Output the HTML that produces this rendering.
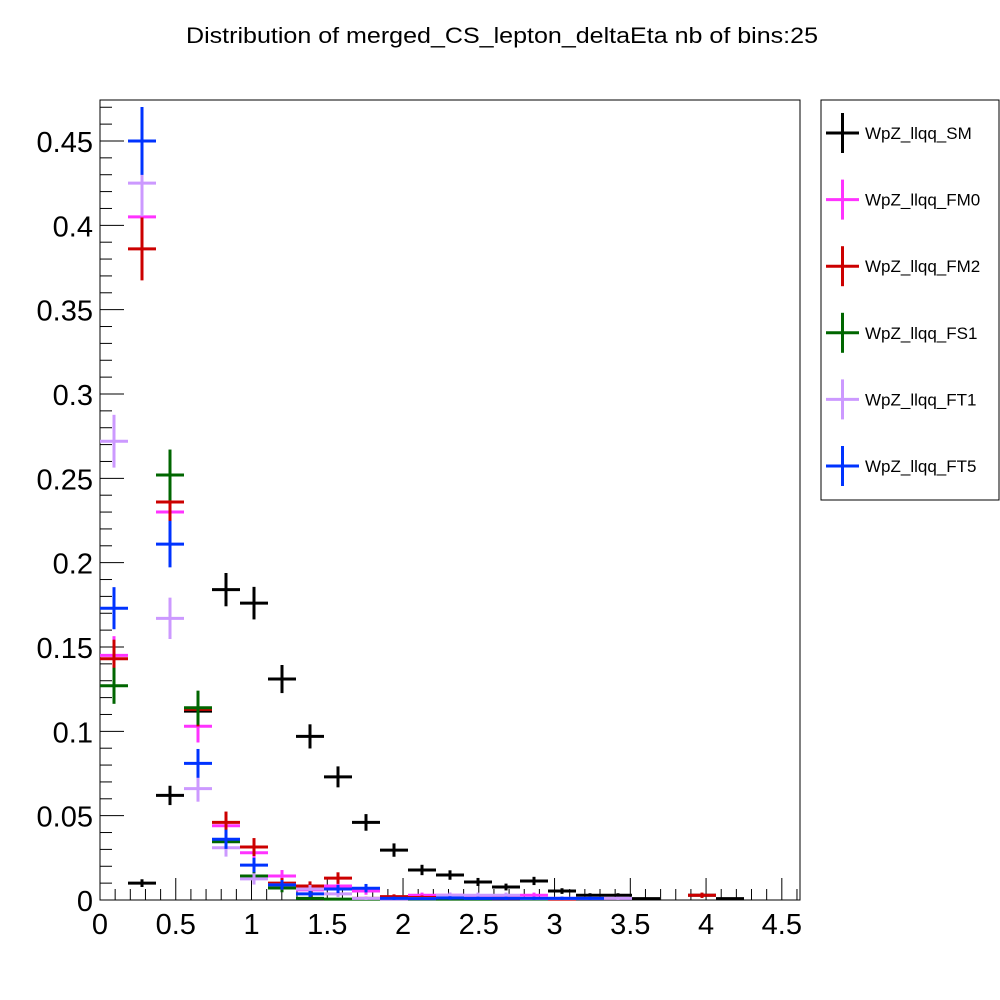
<!DOCTYPE html>
<html><head><meta charset="utf-8"><style>
html,body{margin:0;padding:0;background:#fff;}
svg{display:block;font-family:"Liberation Sans",Arial,sans-serif;}
</style></head><body>
<svg id="chart" width="1000" height="1000" viewBox="0 0 1000 1000" xmlns="http://www.w3.org/2000/svg">
<rect x="0" y="0" width="1000" height="1000" fill="#fff"/>
<text x="502" y="43" font-size="22" text-anchor="middle" textLength="632" lengthAdjust="spacingAndGlyphs">Distribution of merged_CS_lepton_deltaEta nb of bins:25</text>
<g id="axes"></g>
<g id="marks"></g>
<g id="legend"></g>
</svg>
<script>
const xTicks = [0, 0.5, 1, 1.5, 2, 2.5, 3, 3.5, 4, 4.5];
const xTickLabels = ["0","0.5","1","1.5","2","2.5","3","3.5","4","4.5"];
const yTicks = [0, 0.05, 0.1, 0.15, 0.2, 0.25, 0.3, 0.35, 0.4, 0.45];
const yTickLabels = ["0","0.05","0.1","0.15","0.2","0.25","0.3","0.35","0.4","0.45"];
const seriesNames = ["WpZ_llqq_SM","WpZ_llqq_FM0","WpZ_llqq_FM2","WpZ_llqq_FS1","WpZ_llqq_FT1","WpZ_llqq_FT5"];
const binCenters = [0.0924,0.2772,0.462,0.6468,0.8316,1.0164,1.2012,1.386,1.5708,1.7556,1.9404,2.1252,2.31,2.4948,2.6796,2.8644,3.0492,3.234,3.4188,3.6036,3.7884,3.9732,4.158,4.3428,4.5276];
const valSM  = [0,0.010,0.062,0.112,0.184,0.176,0.131,0.097,0.073,0.046,0.0296,0.0178,0.0148,0.0107,0.0077,0.0113,0.0053,0.0028,0.0028,0.0008,0,0.0028,0.0008,0,0];
const valFM0 = [0.145,0.405,0.230,0.103,0.044,0.028,0.0142,0.006,0.0083,0.0053,0.001,0.0028,0.0028,0.002,0.0012,0.0028,0.001,0,0,0,0,0,0,0,0];
const valFM2 = [0.143,0.386,0.236,0.113,0.046,0.0314,0.010,0.0083,0.013,0.001,0.002,0.0015,0.0008,0.0008,0.001,0.0008,0.0005,0,0,0,0,0.0028,0,0,0];
const valFS1 = [0.127,0.450,0.252,0.114,0.0345,0.0142,0.0071,0.001,0.0005,0.0005,0.0005,0.0005,0.0005,0.0005,0,0.0005,0,0,0,0,0,0,0,0,0];
const valFT1 = [0.272,0.425,0.167,0.066,0.031,0.0125,0.009,0.0065,0.0036,0.001,0.0005,0.0008,0.0028,0.0028,0.0028,0.0008,0.001,0.001,0.001,0,0,0,0,0,0];
const valFT5 = [0.173,0.450,0.211,0.081,0.036,0.0207,0.009,0.0036,0.0065,0.007,0.001,0.0008,0.0012,0.001,0.001,0.001,0.001,0.001,0,0,0,0,0,0,0];
const errScale = [0.023,0.03,0.03,0.03,0.03,0.03];
const colors = ["#000000","#ff33ff","#cc0000","#006600","#cc99ff","#0033ff"];
const allVals = [valSM,valFM0,valFM2,valFS1,valFT1,valFT5];

const X0=100,X1=800,Y0=900,Y1=100,XMAX=4.62,YMAX=0.4743,BINW=0.1848;
const xs = v => X0 + v/XMAX*(X1-X0);
const ys = v => Y0 - v/YMAX*(Y0-Y1);
const NS="http://www.w3.org/2000/svg";
function mk(tag, parent, attrs){const e=document.createElementNS(NS,tag);for(const k in attrs)e.setAttribute(k,attrs[k]);parent.appendChild(e);return e;}

const axes=document.getElementById('axes');
const frame=mk('rect',axes,{x:X0,y:Y1,width:X1-X0,height:Y0-Y1,fill:'none',stroke:'#000','stroke-width':1});


for(let v=0; v<=XMAX+1e-9; v+=0.1){
  const major = Math.abs(v/0.5-Math.round(v/0.5))<1e-6;
  const t=mk('line',axes,{x1:xs(v),x2:xs(v),y1:Y0,y2:Y0-(major?22:11),stroke:'#000','stroke-width':1});
  
  
}
xTicks.forEach((v,i)=>{
  const t=mk('text',axes,{x:xs(v),y:934,'font-size':29,'text-anchor':'middle'});
  t.textContent=xTickLabels[i];
  
  
});
for(let v=0; v<=YMAX+1e-9; v+=0.01){
  const major = Math.abs(v/0.05-Math.round(v/0.05))<1e-6;
  const t=mk('line',axes,{x1:X0,x2:X0+(major?24:12),y1:ys(v),y2:ys(v),stroke:'#000','stroke-width':1});
  
  
}
yTicks.forEach((v,i)=>{
  const t=mk('text',axes,{x:93,y:ys(v)+11,'font-size':29,'text-anchor':'end'});
  t.textContent=yTickLabels[i];
  
  
});

const marks=document.getElementById('marks');
allVals.forEach((vals,s)=>{
  const g=mk('g',marks,{});
  
  
  vals.forEach((v,i)=>{
    if(v<=0) return;
    const c=binCenters[i], e=errScale[s]*Math.sqrt(v);
    const h=mk('line',g,{x1:xs(c-BINW/2),x2:xs(c+BINW/2),y1:ys(v),y2:ys(v),stroke:colors[s],'stroke-width':3});
    
    
    const vv=mk('line',g,{x1:xs(c),x2:xs(c),y1:ys(Math.min(v+e,YMAX)),y2:ys(Math.max(v-e,0)),stroke:colors[s],'stroke-width':3});
    
    
  });
});

const leg=document.getElementById('legend');
const box=mk('rect',leg,{x:821,y:100,width:178,height:400,fill:'#fff',stroke:'#000','stroke-width':1});


seriesNames.forEach((n,i)=>{
  const y=133+i*66.6;
  const g=mk('g',leg,{});
  
  
  mk('line',g,{x1:826,x2:859,y1:y,y2:y,stroke:colors[i],'stroke-width':3});
  mk('line',g,{x1:842.5,x2:842.5,y1:y-20,y2:y+20,stroke:colors[i],'stroke-width':3});
  const t=mk('text',g,{x:865,y:y+6,'font-size':17});
  t.textContent=n;
});
</script>
</body></html>
